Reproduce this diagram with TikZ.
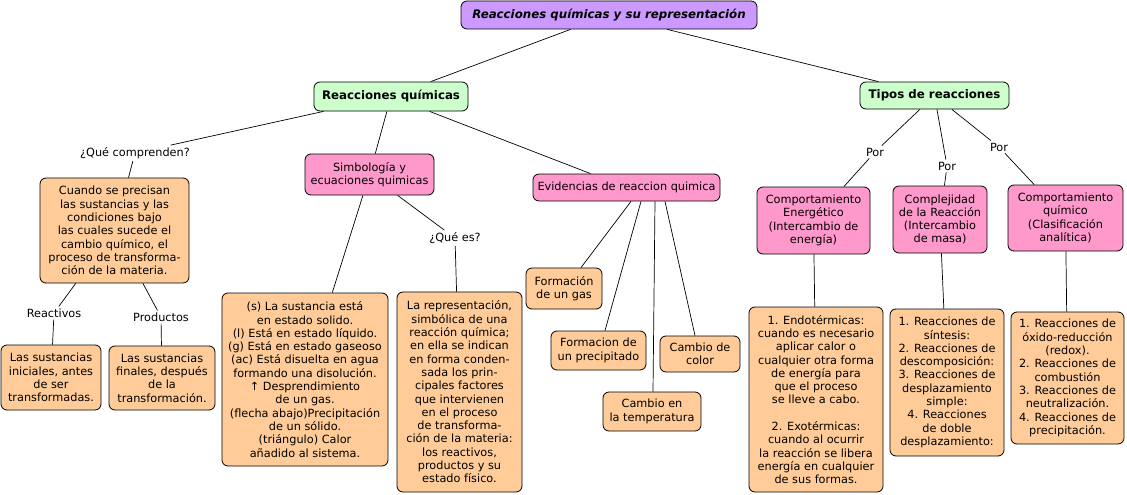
\documentclass[tikz,border=0pt]{standalone}
\usepackage{fontspec}
\setmainfont{DejaVu Sans}
\definecolor{headfill}{HTML}{CC99FF}
\definecolor{topicfill}{HTML}{CCFFCC}
\definecolor{kindfill}{HTML}{FF99CC}
\definecolor{infofill}{HTML}{FFCC99}
\tikzset{
  box/.style={
    draw,rectangle,rounded corners=6pt,line width=0.8pt,
    align=center,inner sep=2pt,font=\fontsize{11.3}{13.3}\selectfont
  },
  head/.style={box,fill=headfill,font=\bfseries\itshape\fontsize{11.8}{14}\selectfont},
  topic/.style={box,fill=topicfill,font=\bfseries\fontsize{11.8}{14}\selectfont},
  kind/.style={box,fill=kindfill},
  info/.style={box,fill=infofill},
  word/.style={inner sep=2pt,font=\fontsize{11.3}{13.3}\selectfont},
  tie/.style={line width=0.7pt}
}

\begin{document}
\begin{tikzpicture}[x=1pt,y=-1pt]
\useasboundingbox (0,0) rectangle (1127,495);

% main concepts
\node[head,minimum width=296pt,minimum height=28pt] (title) at (609,15)
  {Reacciones químicas y su representación};
\node[topic,minimum width=154pt,minimum height=29pt] (rq) at (391,96.5)
  {Reacciones químicas};
\node[topic,minimum width=149pt,minimum height=27pt] (tipos) at (934.5,95.5)
  {Tipos de reacciones};

% left branch
\node[word] (qc) at (135,153) {¿Qué comprenden?};
\node[info,minimum width=149pt,minimum height=105pt] (cuando) at (114.5,230.5) {
Cuando se precisan\\
las sustancias y las\\
condiciones bajo\\
las cuales sucede el\\
cambio químico, el\\
proceso de transforma-\\
ción de la materia.
};
\node[word] (reac) at (54,313) {Reactivos};
\node[word] (prod) at (161,317) {Productos};
\node[info,minimum width=100pt,minimum height=65pt] (inic) at (51,377.5) {
Las sustancias\\
iniciales, antes\\
de ser\\
transformadas.
};
\node[info,minimum width=106pt,minimum height=64pt] (fin) at (162,378) {
Las sustancias\\
finales, después\\
de la\\
transformación.
};

% symbols
\node[kind,minimum width=129pt,minimum height=41pt] (simb) at (369.5,174.5) {
Simbología y\\
ecuaciones quimicas
};
\node[word] (quees) at (455,238) {¿Qué es?};
\node[info,minimum width=166pt,minimum height=173pt] (estados) at (305,379.5) {
(s) La sustancia está\\
en estado solido.\\
(l) Está en estado líquido.\\
(g) Está en estado gaseoso\\
(ac) Está disuelta en agua\\
formando una disolución.\\
↑ Desprendimiento\\
de un gas.\\
(flecha abajo)Precipitación\\
de un sólido.\\
(triángulo) Calor\\
añadido al sistema.
};
\node[info,minimum width=125pt,minimum height=200pt] (repr) at (459.5,392) {
La representación,\\
simbólica de una\\
reacción química;\\
en ella se indican\\
en forma conden-\\
sada los prin-\\
cipales factores\\
que intervienen\\
en el proceso\\
de transforma-\\
ción de la materia:\\
los reactivos,\\
productos y su\\
estado físico.
};

% evidences
\node[kind,minimum width=187pt,minimum height=27pt] (evid) at (626.5,187.5)
  {Evidencias de reaccion quimica};
\node[info,minimum width=76pt,minimum height=41pt] (gas) at (564,288.5)
  {Formación\\de un gas};
\node[info,minimum width=95pt,minimum height=39pt] (prec) at (598.5,350.5)
  {Formacion de\\un precipitado};
\node[info,minimum width=80pt,minimum height=36pt] (color) at (700,354)
  {Cambio de\\color};
\node[info,minimum width=98pt,minimum height=39pt] (temp) at (652,411.5)
  {Cambio en\\la temperatura};

% kinds of reactions
\node[word] (por1) at (875,152) {Por};
\node[word] (por2) at (947,166) {Por};
\node[word] (por3) at (999,147) {Por};
\node[kind,minimum width=113pt,minimum height=67pt] (energ) at (813.5,220.5) {
Comportamiento\\
Energético\\
(Intercambio de\\
energía)
};
\node[kind,minimum width=94pt,minimum height=67pt] (compl) at (940,219.5) {
Complejidad\\
de la Reacción\\
(Intercambio\\
de masa)
};
\node[kind,minimum width=115pt,minimum height=66pt] (quim) at (1065.5,218) {
Comportamiento\\
químico\\
(Clasificación\\
analítica)
};
\node[info,minimum width=134pt,minimum height=185pt] (endo) at (816,399.5) {
1. Endotérmicas:\\
cuando es necesario\\
aplicar calor o\\
cualquier otra forma\\
de energía para\\
que el proceso\\
se lleve a cabo.\\[13.3pt]
2. Exotérmicas:\\
cuando al ocurrir\\
la reacción se libera\\
energía en cualquier\\
de sus formas.
};
\node[info,minimum width=114pt,minimum height=147pt] (sint) at (947,382.5) {
1. Reacciones de\\
síntesis:\\
2. Reacciones de\\
descomposición:\\
3. Reacciones de\\
desplazamiento\\
simple:\\
4. Reacciones\\
de doble\\
desplazamiento:
};
\node[info,minimum width=113pt,minimum height=132pt] (oxid) at (1067.5,378) {
1. Reacciones de\\
óxido-reducción\\
(redox).\\
2. Reacciones de\\
combustión\\
3. Reacciones de\\
neutralización.\\
4. Reacciones de\\
precipitación.
};

% connectors
\draw[tie] (title) -- (rq);
\draw[tie] (title) -- (tipos);
\draw[tie] (rq) -- (qc);
\draw[tie] (rq) -- (simb);
\draw[tie] (rq) -- (evid);
\draw[tie] (qc) -- (cuando);
\draw[tie] (cuando) -- (reac);
\draw[tie] (cuando) -- (prod);
\draw[tie] (reac) -- (inic);
\draw[tie] (prod) -- (fin);
\draw[tie] (simb) -- (estados);
\draw[tie] (simb) -- (quees);
\draw[tie] (quees) -- (repr);
\draw[tie] ([xshift=4.5pt]evid.south) -- ([xshift=17pt]gas.north);
\draw[tie] ([xshift=14.5pt]evid.south) -- ([xshift=6.5pt]prec.north);
\draw[tie] ([xshift=28.5pt]evid.south) -- ([xshift=1pt]temp.north);
\draw[tie] ([xshift=38.5pt]evid.south) -- ([xshift=-5pt]color.north);
\draw[tie] (tipos) -- (por1);
\draw[tie] (tipos) -- (por2);
\draw[tie] (tipos) -- (por3);
\draw[tie] (por1) -- (energ);
\draw[tie] (por2) -- (compl);
\draw[tie] (por3) -- (quim);
\draw[tie] (energ) -- (endo);
\draw[tie] (compl) -- (sint);
\draw[tie] (quim) -- (oxid);

\end{tikzpicture}
\end{document}
